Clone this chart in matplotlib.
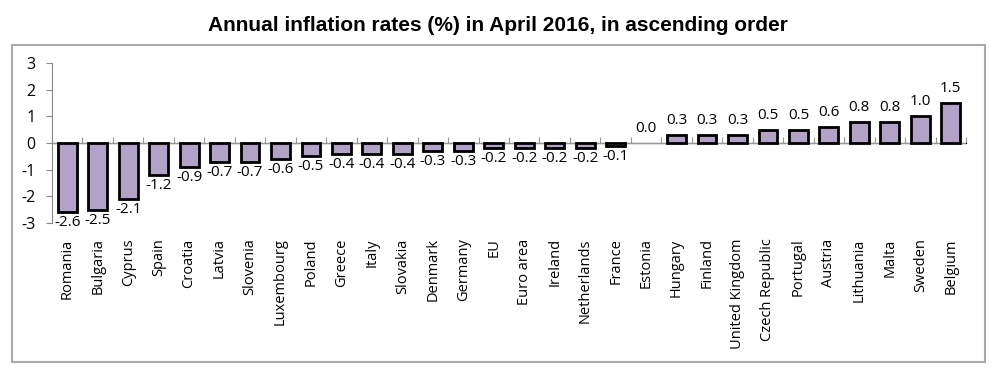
import matplotlib
matplotlib.use("Agg")
import matplotlib.pyplot as plt
from matplotlib.patches import Rectangle
import numpy as np

countries = ["Romania", "Bulgaria", "Cyprus", "Spain", "Croatia", "Latvia", "Slovenia",
             "Luxembourg", "Poland", "Greece", "Italy", "Slovakia", "Denmark", "Germany",
             "EU", "Euro area", "Ireland", "Netherlands", "France", "Estonia", "Hungary",
             "Finland", "United Kingdom", "Czech Republic", "Portugal", "Austria",
             "Lithuania", "Malta", "Sweden", "Belgium"]
rates = [-2.6, -2.5, -2.1, -1.2, -0.9, -0.7, -0.7, -0.6, -0.5, -0.4, -0.4, -0.4, -0.3, -0.3,
         -0.2, -0.2, -0.2, -0.2, -0.1, 0.0, 0.3, 0.3, 0.3, 0.5, 0.5, 0.6, 0.8, 0.8, 1.0, 1.5]
yticks = [-3, -2, -1, 0, 1, 2, 3]
title = "Annual inflation rates (%) in April 2016, in ascending order"

plt.rcParams['font.family'] = ['Open Sans', 'DejaVu Sans']

fig = plt.figure(figsize=(10, 3.8), dpi=100)
ax = fig.add_axes([0.052, 0.413, 0.914, 0.421])

x = np.arange(len(countries))
lws = [0 if v == 0 else 2 for v in rates]
ax.bar(x, rates, width=0.62, color="#B3A2C7", edgecolor="black", linewidth=lws, zorder=3)

for xi, v in zip(x, rates):
    if v < 0:
        ax.annotate(f"{v:.1f}", (xi, v), xytext=(0, -2), textcoords="offset points",
                    ha="center", va="top", fontsize=11)
    else:
        ax.annotate(f"{v:.1f}", (xi, v), xytext=(0, 5), textcoords="offset points",
                    ha="center", va="bottom", fontsize=11)

ax.set_xlim(-0.5, len(countries) - 0.5)
ax.set_ylim(-3, 3)
ax.set_yticks(yticks)
ax.set_yticklabels([str(t) for t in yticks], fontsize=11.5)
ax.tick_params(axis="y", direction="out", length=4, color="#888888", pad=8)

ax.set_xticks(x)
ax.set_xticklabels(countries, rotation=90, fontsize=10.5, va="top")
ax.tick_params(axis="x", length=0, pad=11)

for s in ["top", "right", "bottom"]:
    ax.spines[s].set_visible(False)
ax.spines["left"].set_color("#888888")

ax.axhline(0, color="#999999", linewidth=1, zorder=2)
sec = ax.secondary_xaxis(0.5)
sec.set_xticks(np.arange(len(countries) + 1) - 0.5)
sec.set_xticklabels([])
sec.tick_params(axis="x", direction="out", length=4, color="#999999")
sec.spines["bottom"].set_visible(False)

fig.patches.append(Rectangle((0.012, 0.047), 0.973, 0.834, transform=fig.transFigure,
                             fill=False, edgecolor="#AAAAAA", linewidth=1.5))

fig.text(0.498, 0.932, title, ha="center", va="center", fontsize=15, fontweight="bold",
         family="Liberation Sans")

fig.savefig("out.png", dpi=100, facecolor="white")
